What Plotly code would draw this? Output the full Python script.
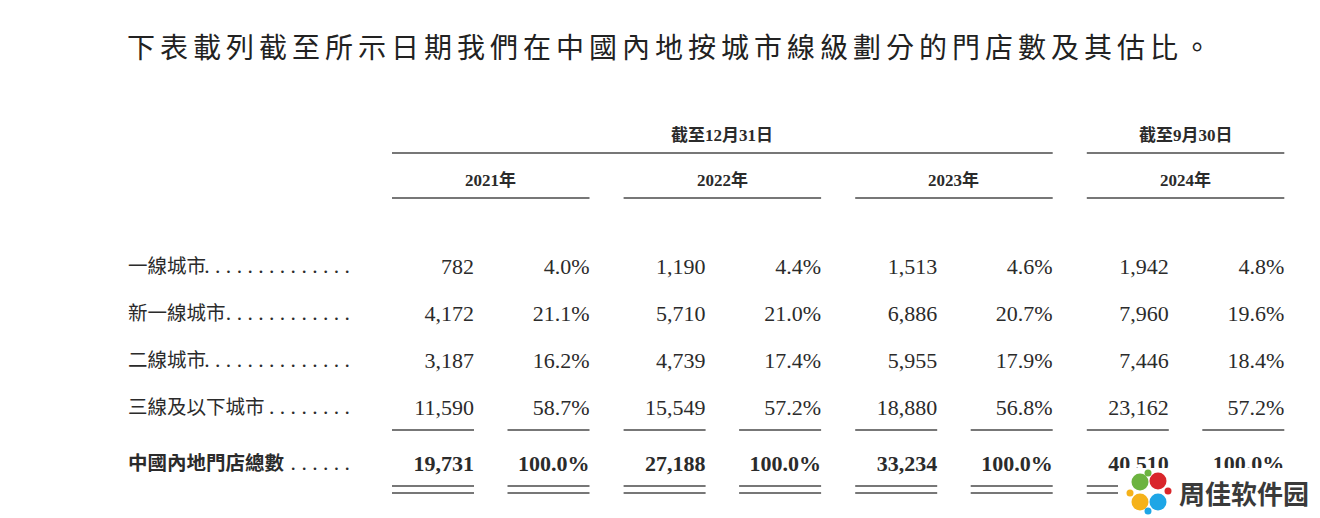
import plotly.graph_objects as go

# ---- table content ----
title_text = "下表載列截至所示日期我們在中國內地按城市線級劃分的門店數及其估比。"
period_labels = ["截至12月31日", "截至9月30日"]
years = ["2021年", "2022年", "2023年", "2024年"]
cities = ["一線城市", "新一線城市", "二線城市", "三線及以下城市"]
total_label = "中國內地門店總數"

stores_2021 = [782, 4172, 3187, 11590]
stores_2022 = [1190, 5710, 4739, 15549]
stores_2023 = [1513, 6886, 5955, 18880]
stores_2024 = [1942, 7960, 7446, 23162]
share_2021 = [4.0, 21.1, 16.2, 58.7]
share_2022 = [4.4, 21.0, 17.4, 57.2]
share_2023 = [4.6, 20.7, 17.9, 56.8]
share_2024 = [4.8, 19.6, 18.4, 57.2]
total_stores = [19731, 27188, 33234, 40510]
total_share = [100.0, 100.0, 100.0, 100.0]

watermark = "周佳软件园"

# ---- layout constants (pixels, axes are mapped 1:1 to the page) ----
W, H = 1320, 518
PAGE_PAD = 8  # body margin of the html page
CJK = "Noto Sans CJK TC"
NUM = "Liberation Serif, Noto Sans CJK TC"
INK = "#2b2b2b"
RULE = "#4a4a4a"

label_x = 128
leader_end = 350
leader_dots = [14, 12, 14, 8, 6]
first_num_right = 474
col_pitch = 231.6
pct_offset = 115.5
col_width = 82
row_first = 268
row_step = 47
total_row_y = 465
period_y, period_rule_y = 135, 153
year_y, year_rule_y = 180, 198
sub_rule_y = 430
dbl_rule_y = (486, 493)

stores = [stores_2021, stores_2022, stores_2023, stores_2024]
shares = [share_2021, share_2022, share_2023, share_2024]
num_right = [first_num_right + i * col_pitch for i in range(len(years))]
pct_right = [x + pct_offset for x in num_right]
row_y = [row_first + i * row_step for i in range(len(cities))] + [total_row_y]

fig = go.Figure()

# row labels and dot leaders
fig.add_scatter(
    x=[label_x] * len(row_y), y=row_y, mode='text',
    text=cities + ['<b>' + total_label + '</b>'],
    textposition='middle right',
    textfont=dict(family=CJK, size=19.5, color=INK),
    hoverinfo='skip'
)
fig.add_scatter(
    x=[leader_end] * len(row_y), y=row_y, mode='text',
    text=[' '.join(['.'] * n) for n in leader_dots],
    textposition='middle left',
    textfont=dict(family=NUM, size=21.6, color=INK),
    hoverinfo='skip'
)

# number and share columns
for i in range(len(years)):
    num_txt = ['{:,}'.format(v) for v in stores[i]] + ['<b>{:,}</b>'.format(total_stores[i])]
    pct_txt = ['{:.1f}%'.format(v) for v in shares[i]] + ['<b>{:.1f}%</b>'.format(total_share[i])]
    fig.add_scatter(
        x=[num_right[i]] * len(row_y), y=row_y, mode='text', text=num_txt,
        textposition='middle left',
        textfont=dict(family=NUM, size=22, color=INK), hoverinfo='skip'
    )
    fig.add_scatter(
        x=[pct_right[i]] * len(row_y), y=row_y, mode='text', text=pct_txt,
        textposition='middle left',
        textfont=dict(family=NUM, size=22, color=INK), hoverinfo='skip'
    )

# header rules
groups = [(0, 2), (3, 3)]
for (a, b), label in zip(groups, period_labels):
    x0, x1 = num_right[a] - col_width, pct_right[b]
    fig.add_shape(type='line', x0=x0, x1=x1, y0=period_rule_y, y1=period_rule_y,
                  line=dict(color=RULE, width=1.6))
    fig.add_annotation(x=(x0 + x1) / 2, y=period_y, text='<b>' + label + '</b>',
                       showarrow=False, font=dict(family=NUM, size=17, color=INK))

for i, yr in enumerate(years):
    x0, x1 = num_right[i] - col_width, pct_right[i]
    fig.add_shape(type='line', x0=x0, x1=x1, y0=year_rule_y, y1=year_rule_y,
                  line=dict(color=RULE, width=1.6))
    fig.add_annotation(x=(x0 + x1) / 2, y=year_y, text='<b>' + yr + '</b>',
                       showarrow=False, font=dict(family=NUM, size=17, color=INK))

# subtotal rules: single above total, double below
for xr in num_right + pct_right:
    fig.add_shape(type='line', x0=xr - col_width, x1=xr, y0=sub_rule_y, y1=sub_rule_y,
                  line=dict(color=RULE, width=1.4))
    for yy in dbl_rule_y:
        fig.add_shape(type='line', x0=xr - col_width, x1=xr, y0=yy, y1=yy,
                      line=dict(color=RULE, width=1.4))

# intro sentence
fig.add_annotation(
    x=125, y=46, xanchor='left', showarrow=False,
    text='<span style="letter-spacing:5px">' + title_text + '</span>',
    font=dict(family=CJK, size=28, color='#222222')
)

# watermark in the corner
fig.add_shape(type='rect', x0=1118, x1=W + PAGE_PAD, y0=468, y1=H + PAGE_PAD, layer='above',
              fillcolor='white', line=dict(width=0))
cx, cy = 1149, 492
petals = [(-9, -10, '#6cb33f'), (9, -11, '#d9262b'), (-9, 10, '#f5b21a'), (9, 10, '#1ea6e6')]
for dx, dy, c in petals:
    fig.add_shape(type='circle', x0=cx + dx - 8.5, x1=cx + dx + 8.5,
                  y0=cy + dy - 8.5, y1=cy + dy + 8.5, layer='above',
                  fillcolor=c, line=dict(width=0))
knobs = [(-1, -19, '#6cb33f'), (19, -1, '#d9262b'), (-19, 1, '#f5b21a'), (-1, 19, '#1ea6e6')]
for dx, dy, c in knobs:
    fig.add_shape(type='circle', x0=cx + dx - 3.5, x1=cx + dx + 3.5,
                  y0=cy + dy - 3.5, y1=cy + dy + 3.5, layer='above',
                  fillcolor=c, line=dict(width=0))
fig.add_annotation(x=1244, y=492, text='<b>' + watermark + '</b>', showarrow=False,
                   font=dict(family=CJK, size=26, color='#3a3a3a'))

# page pixel == data unit (the html body adds an 8px margin)
fig.update_xaxes(range=[PAGE_PAD, W + PAGE_PAD], visible=False, fixedrange=True)
fig.update_yaxes(range=[H + PAGE_PAD, PAGE_PAD], visible=False, fixedrange=True)
fig.update_layout(
    width=W, height=H,
    margin=dict(l=0, r=0, t=0, b=0),
    paper_bgcolor='white', plot_bgcolor='white',
    showlegend=False
)

fig.write_html("out.html")
